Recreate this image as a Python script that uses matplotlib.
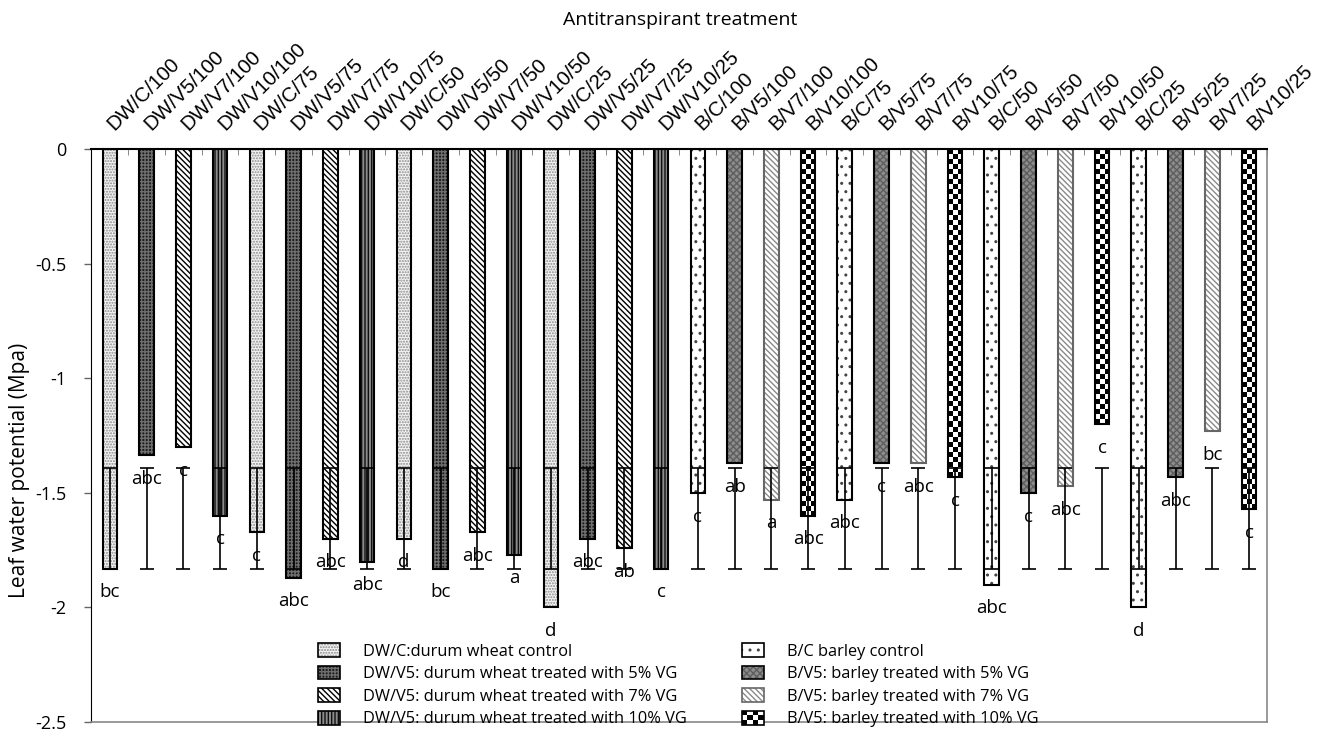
"""
plot.py

Potencial hidrico de la hoja (Mpa) para cada tratamiento antitranspirante,
trigo duro (DW) y cebada (B). Genera out.png.
"""

import numpy as np
import matplotlib
matplotlib.use("Agg")
import matplotlib.pyplot as plt
import matplotlib.transforms as mtransforms
from matplotlib.patches import Patch, Rectangle
from matplotlib.legend_handler import HandlerBase


# Datos
treatments = [
    "DW/C/100", "DW/V5/100", "DW/V7/100", "DW/V10/100",
    "DW/C/75", "DW/V5/75", "DW/V7/75", "DW/V10/75",
    "DW/C/50", "DW/V5/50", "DW/V7/50", "DW/V10/50",
    "DW/C/25", "DW/V5/25", "DW/V7/25", "DW/V10/25",
    "B/C/100", "B/V5/100", "B/V7/100", "B/V10/100",
    "B/C/75", "B/V5/75", "B/V7/75", "B/V10/75",
    "B/C/50", "B/V5/50", "B/V7/50", "B/V10/50",
    "B/C/25", "B/V5/25", "B/V7/25", "B/V10/25",
]

leaf_potential = [
    -1.83, -1.335, -1.30, -1.60,
    -1.67, -1.87, -1.70, -1.80,
    -1.70, -1.83, -1.67, -1.77,
    -2.00, -1.70, -1.74, -1.83,
    -1.50, -1.37, -1.53, -1.60,
    -1.53, -1.37, -1.37, -1.43,
    -1.90, -1.50, -1.47, -1.20,
    -2.00, -1.43, -1.23, -1.57,
]

letters = [
    "bc", "abc", "c", "c",
    "c", "abc", "abc", "abc",
    "d", "bc", "abc", "a",
    "d", "abc", "ab", "c",
    "c", "ab", "a", "abc",
    "abc", "c", "abc", "c",
    "abc", "c", "abc", "c",
    "d", "abc", "bc", "c",
]

# Las barras de error son iguales en todos los tratamientos
err_top = [-1.39] * 32
err_bottom = [-1.83] * 32

series_order = ["DW/C", "DW/V5", "DW/V7", "DW/V10", "B/C", "B/V5", "B/V7", "B/V10"]

legend_labels = [
    "DW/C:durum wheat control",
    "DW/V5: durum wheat treated with 5% VG",
    "DW/V5: durum wheat treated with 7% VG",
    "DW/V5: durum wheat treated with 10% VG",
    "B/C barley control",
    "B/V5: barley treated with 5% VG",
    "B/V5: barley treated with 7% VG",
    "B/V5: barley treated with 10% VG",
]

y_ticks = [0, -0.5, -1, -1.5, -2, -2.5]
y_tick_labels = ["0", "-0.5", "-1", "-1.5", "-2", "-2.5"]

# Estilo (relleno + trama) de cada serie
styles = {
    "DW/C": dict(face="#f4f4f4", hatch="......", hcolor="#8a8a8a", edge="black"),
    "DW/V5": dict(face="#1c1c1c", hatch="+++++", hcolor="#6e6e6e", edge="black"),
    "DW/V7": dict(face="white", hatch="\\" * 6, hcolor="black", edge="black"),
    "DW/V10": dict(face="#8c8c8c", hatch="|||||", hcolor="#101010", edge="black"),
    "B/C": dict(face="white", hatch="..", hcolor="#444444", edge="black"),
    "B/V5": dict(face="#8c8c8c", hatch="xxxxx", hcolor="#5e5e5e", edge="black"),
    "B/V7": dict(face="white", hatch="\\" * 6, hcolor="#8a8a8a", edge="#666666"),
    "B/V10": dict(face="white", hatch=None, hcolor="black", edge="black", checker=True),
}

TEXT_FONT = ["Open Sans", "DejaVu Sans"]
LABEL_FONT = ["Liberation Sans", "DejaVu Sans"]


class CheckerHandler(HandlerBase):
    """Dibuja un pequeño tablero de ajedrez en la leyenda."""

    def create_artists(self, legend, orig_handle, xdescent, ydescent,
                       width, height, fontsize, trans):
        nx, ny = 4, 3
        cw = width / nx
        ch = height / ny
        artists = []
        for i in range(nx):
            for j in range(ny):
                color = "black" if (i + j) % 2 == 0 else "white"
                artists.append(Rectangle((-xdescent + i * cw, -ydescent + j * ch),
                                         cw, ch, facecolor=color, edgecolor="none",
                                         transform=trans))
        return artists


def draw_checker(ax, bars, values):
    """Rellena las barras con un patron de tablero (imagen recortada)."""
    for rect, v in zip(bars, values):
        n_rows = max(1, int(round(abs(v) / 0.022)))
        board = (np.add.outer(np.arange(n_rows), np.arange(3)) % 2).astype(float)
        x0 = rect.get_x()
        x1 = x0 + rect.get_width()
        im = ax.imshow(board, cmap="gray", vmin=0, vmax=1,
                       extent=(x0, x1, rect.get_y() + rect.get_height(), rect.get_y()),
                       aspect="auto", interpolation="nearest", zorder=2.2)
        im.set_clip_path(rect)


def plot_chart(output_path="out.png"):
    x = np.arange(len(treatments))
    values = np.array(leaf_potential)
    keys = [t.rsplit("/", 1)[0] for t in treatments]
    width = 0.40

    fig = plt.figure(figsize=(13.24, 7.47), dpi=100)
    ax = fig.add_axes([0.0691, 0.0335, 0.8882, 0.7664])

    # Barras por serie
    for key in series_order:
        st = styles[key]
        idx = np.array([k == key for k in keys])
        if st.get("checker"):
            bars = ax.bar(x[idx], values[idx], width, color="white",
                          linewidth=0, zorder=2)
            draw_checker(ax, bars, values[idx])
        else:
            ax.bar(x[idx], values[idx], width, color=st["face"], hatch=st["hatch"],
                   edgecolor=st["hcolor"], linewidth=0, zorder=2)
        ax.bar(x[idx], values[idx], width, fill=False, edgecolor=st["edge"],
               linewidth=1.5, zorder=2.5)

    # Barras de error
    top = np.array(err_top)
    bottom = np.array(err_bottom)
    ax.errorbar(x, top, yerr=[top - bottom, np.zeros_like(top)], fmt="none",
                ecolor="black", elinewidth=1.2, capsize=4.7, capthick=1.2, zorder=4)

    # Letras de significancia
    for xi, v, s in zip(x, values, letters):
        ax.annotate(s, (xi, v), xytext=(0, -17), textcoords="offset points",
                    ha="center", va="center", fontsize=13.5, family=TEXT_FONT,
                    zorder=5)

    # Ejes
    ax.set_xlim(-0.5, len(x) - 0.5)
    ax.set_ylim(-2.5, 0)

    ax.xaxis.tick_top()
    ax.set_xticks(x)
    ax.set_xticklabels(treatments, rotation=45, ha="left", va="baseline",
                       rotation_mode="anchor", fontsize=14.7, family=LABEL_FONT)
    ax.tick_params(axis="x", which="major", length=0, pad=13)
    shift = mtransforms.ScaledTranslation(5 / 100, 0, fig.dpi_scale_trans)
    for lab in ax.get_xticklabels():
        lab.set_transform(lab.get_transform() + shift)
    ax.set_xticks(np.arange(len(x) + 1) - 0.5, minor=True)
    ax.tick_params(axis="x", which="minor", direction="in", length=4,
                   color="#777777", top=True, bottom=False)

    ax.set_yticks(y_ticks)
    ax.set_yticklabels(y_tick_labels, fontsize=13, family=TEXT_FONT)
    ax.tick_params(axis="y", length=5, width=1, color="#666666", pad=13)

    ax.spines["top"].set_color("black")
    ax.spines["top"].set_linewidth(1.5)
    ax.spines["left"].set_color("black")
    ax.spines["right"].set_color("#888888")
    ax.spines["right"].set_linewidth(1.2)
    ax.spines["bottom"].set_color("#888888")
    ax.spines["bottom"].set_linewidth(1.2)

    # Titulos
    fig.text(0.5136, 0.973, "Antitranspirant treatment", ha="center", va="center",
             fontsize=14, family=TEXT_FONT)
    fig.text(0.015, 0.541, "Leaf water potential (Mpa)", ha="center", va="top",
             rotation=90, fontsize=15, family=TEXT_FONT)

    # Leyenda
    handles = []
    handler_map = {}
    for key in series_order:
        st = styles[key]
        if st.get("checker"):
            fill = Patch(facecolor="white", edgecolor="none")
            handler_map[fill] = CheckerHandler()
        else:
            fill = Patch(facecolor=st["face"], hatch=st["hatch"],
                         edgecolor=st["hcolor"], linewidth=0)
        outline = Patch(fill=False, edgecolor=st["edge"], linewidth=1.2)
        handles.append((fill, outline))

    fig.legend(handles, legend_labels, ncol=2, loc="upper left",
               bbox_to_anchor=(0.2402, 0.139), frameon=False, borderpad=0,
               borderaxespad=0, handlelength=1.34, handleheight=0.91,
               handletextpad=1.4, columnspacing=3.35, labelspacing=0.37,
               prop={"family": TEXT_FONT, "size": 11.8}, handler_map=handler_map)

    fig.savefig(output_path, dpi=100)
    print(f"Figura guardada en: {output_path}")


if __name__ == "__main__":
    plot_chart("out.png")
